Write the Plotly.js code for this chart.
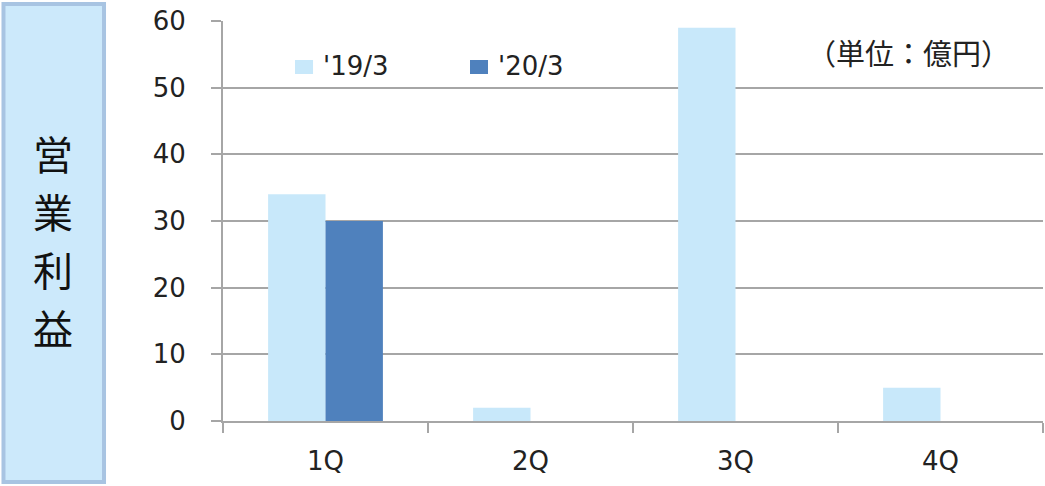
<!DOCTYPE html>
<html>
<head>
<meta charset="utf-8">
<script src="https://cdn.plot.ly/plotly-3.0.1.min.js"></script>
<style>
  html, body { margin: 0; padding: 0; background: #ffffff; }
  #chart { width: 1045px; height: 486px; }
</style>
</head>
<body>
<div id="chart"></div>
<script>
// Quarterly operating profit (units: 100 million yen)
const quarters = ['1Q', '2Q', '3Q', '4Q'];
const fy19 = [34, 2, 59, 5];
const fy20 = [30, null, null, null];
const seriesNames = ["'19/3", "'20/3"];
const seriesColors = ['#c8e8fa', '#4f81bd'];
const yTicks = [0, 10, 20, 30, 40, 50, 60];
const sideTitle = ['営', '業', '利', '益'];
const unitLabel = '（単位：億円）';

const gridGray = '#a6a6a6';
const numFont = 'DejaVu Sans, Verdana, sans-serif';
const jpFont = 'Noto Sans CJK JP, sans-serif';

const traces = [
  { type: 'bar', name: seriesNames[0], x: quarters, y: fy19,
    marker: { color: seriesColors[0] }, hoverinfo: 'x+y' },
  { type: 'bar', name: seriesNames[1], x: quarters, y: fy20,
    marker: { color: seriesColors[1] }, hoverinfo: 'x+y' }
];

// Legend drawn by hand: larger swatches than the built-in legend gives
const legendX = [0.0878, 0.3012];
const legendShapes = seriesColors.map((c, i) => ({
  type: 'rect', xref: 'paper', yref: 'paper',
  x0: legendX[i], x1: legendX[i] + 0.022, y0: 0.8675, y1: 0.9025,
  fillcolor: c, line: { width: 0 }
}));
const legendLabels = seriesNames.map((n, i) => ({
  xref: 'paper', yref: 'paper', x: legendX[i] + 0.032, y: 0.8875,
  xanchor: 'left', yanchor: 'middle', showarrow: false, text: n,
  font: { family: numFont, size: 26, color: '#222' }
}));

// Vertical side title, one glyph per line
const sideY = [0.67, 0.525, 0.38, 0.235];
const sideLabels = sideTitle.map((ch, i) => ({
  xref: 'paper', yref: 'paper', x: -0.2073, y: sideY[i],
  xanchor: 'center', yanchor: 'middle', showarrow: false, text: ch,
  font: { family: jpFont, size: 40, color: '#111' }
}));

const layout = {
  width: 1045, height: 486,
  margin: { l: 223, r: 2, t: 21, b: 65 },
  paper_bgcolor: '#ffffff', plot_bgcolor: '#ffffff',
  barmode: 'group', bargap: 0.44, bargroupgap: 0,
  showlegend: false,
  xaxis: {
    type: 'category', showgrid: false, zeroline: false,
    showline: true, linecolor: gridGray, linewidth: 2,
    ticks: 'outside', tickson: 'boundaries', ticklen: 10, tickwidth: 2, tickcolor: gridGray,
    ticklabelstandoff: 16,
    tickfont: { family: numFont, size: 26, color: '#222' }
  },
  yaxis: {
    range: [0, 60], tickvals: yTicks, ticktext: yTicks.map(String),
    showgrid: true, gridcolor: gridGray, gridwidth: 2, zeroline: false,
    showline: true, linecolor: gridGray, linewidth: 2,
    ticks: 'outside', ticklen: 10, tickwidth: 2, tickcolor: gridGray,
    ticklabelstandoff: 20,
    tickfont: { family: numFont, size: 26, color: '#222' }
  },
  shapes: [
    { type: 'rect', xref: 'paper', yref: 'paper',
      x0: -0.2677, x1: -0.1451, y0: -0.1525, y1: 1.0425,
      fillcolor: '#cce9fb', line: { color: '#a8c4e2', width: 4 }, layer: 'below' }
  ].concat(legendShapes),
  annotations: sideLabels.concat(legendLabels, [
    { xref: 'paper', yref: 'paper', x: 0.8354, y: 0.9225, xanchor: 'center', yanchor: 'middle',
      text: unitLabel, showarrow: false,
      font: { family: jpFont, size: 29, color: '#222' } }
  ])
};

Plotly.newPlot('chart', traces, layout, { displayModeBar: false, staticPlot: true });
</script>
</body>
</html>
